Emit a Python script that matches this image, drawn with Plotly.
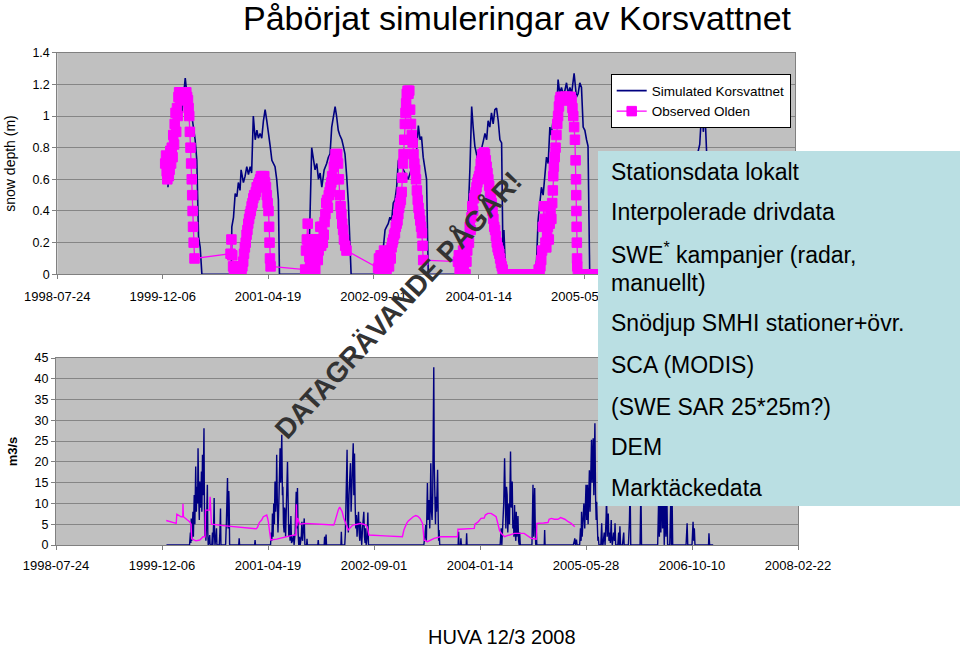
import pandas as pd
import plotly.graph_objects as go

START = "1998-07-24"
x_tick_labels = ["1998-07-24", "1999-12-06", "2001-04-19", "2002-09-01",
                 "2004-01-14", "2005-05-28", "2006-10-10", "2008-02-22"]
snow_ticks = [0, 0.2, 0.4, 0.6, 0.8, 1, 1.2, 1.4]
flow_ticks = [0, 5, 10, 15, 20, 25, 30, 35, 40, 45]

# ---- Snow depth (m): simulated Korsvattnet (days since START, value) ----
sim_snow_day = [
    525, 536, 544, 551, 557, 563, 572, 583, 591, 598, 607, 615, 622, 630, 638, 646, 654, 662, 666, 670, 678, 686,
    825, 828, 836, 844, 852, 859, 867, 872, 883, 891, 899, 907, 915, 922, 930, 939, 947, 954, 962, 970, 978, 986,
    994, 1002, 1010, 1018, 1025, 1033, 1041, 1049, 1054,
    1192, 1207, 1215, 1223, 1231, 1239, 1247, 1255, 1266, 1278, 1286, 1294, 1302, 1318, 1325, 1333, 1340, 1350,
    1357, 1365, 1373, 1381, 1394,
    1539, 1547, 1555, 1562, 1570, 1578, 1586, 1594, 1602, 1610, 1618, 1626, 1634, 1642, 1650, 1658, 1665, 1674,
    1683, 1694, 1705, 1713, 1721, 1728, 1736, 1744, 1752, 1760,
    1902, 1910, 1920, 1930, 1945, 1958, 1966, 1973, 1981, 1989, 1997, 2005, 2013, 2021, 2029, 2037, 2044, 2052,
    2060, 2068, 2076, 2084, 2092, 2100, 2108, 2114, 2119, 2127,
    2266, 2274, 2281, 2289, 2297, 2305, 2313, 2321, 2329, 2337, 2344, 2352, 2360, 2368, 2376, 2384, 2392, 2400,
    2408, 2416, 2424, 2432, 2440, 2452, 2463, 2471, 2479, 2487, 2495, 2503, 2511, 2518, 2526,
    2650, 2660, 2680, 2710, 2750, 2800, 2850, 2900, 2950, 3000, 3034, 3048, 3055, 3060, 3065, 3072, 3081, 3090,
    3100, 3130,
]
sim_snow_m = [
    0.55, 0.82, 0.79, 0.83, 0.80, 1.04, 0.97, 1.08, 1.02, 1.10, 1.24, 1.14, 1.06, 1.08, 1.00, 0.93, 0.85, 0.72, 0.50, 0.24, 0.17, 0.00,
    0.00, 0.30, 0.36, 0.51, 0.49, 0.58, 0.53, 0.66, 0.58, 0.62, 0.68, 0.63, 0.68, 0.64, 1.00, 0.85, 0.91, 0.86, 0.89, 0.86, 0.97, 1.04,
    0.97, 0.87, 0.81, 0.72, 0.70, 0.68, 0.60, 0.47, 0.00,
    0.00, 0.80, 0.74, 0.66, 0.70, 0.60, 0.64, 0.55, 0.66, 0.70, 0.74, 0.76, 0.93, 1.06, 1.00, 0.91, 0.88, 0.85,
    0.81, 0.76, 0.62, 0.45, 0.00,
    0.00, 0.17, 0.28, 0.30, 0.32, 0.36, 0.34, 0.45, 0.47, 0.55, 0.72, 0.68, 0.70, 0.66, 0.64, 0.62, 0.60, 0.64,
    0.68, 0.72, 0.79, 0.94, 0.85, 0.87, 0.74, 0.66, 0.60, 0.00,
    0.00, 0.07, 0.05, 0.10, 0.22, 0.68, 1.06, 0.93, 0.81, 0.76, 0.70, 0.75, 0.79, 0.84, 0.89, 0.85, 0.97, 0.93,
    1.02, 0.95, 1.04, 1.05, 0.97, 0.85, 0.83, 0.17, 0.28, 0.00,
    0.00, 0.09, 0.34, 0.43, 0.55, 0.50, 0.64, 0.74, 0.70, 0.93, 0.88, 0.97, 0.92, 1.00, 1.23, 1.14, 1.18, 1.14,
    1.16, 1.21, 1.14, 1.18, 1.14, 1.27, 1.12, 1.14, 1.21, 1.18, 0.93, 0.91, 0.85, 0.81, 0.00,
    0.00, 0.20, 0.35, 0.45, 0.55, 0.60, 0.66, 0.70, 0.65, 0.72, 0.74, 0.82, 0.95, 1.10, 0.90, 1.05, 0.76, 0.70,
    0.00, 0.00,
]

# ---- Snow depth (m): observed Olden ----
obs_snow_day = [
    512, 516, 519, 522, 526, 529, 533, 536, 540, 543, 547, 550, 554, 557, 561, 564, 568, 571, 575, 578, 582, 585,
    589, 592, 596, 600, 604, 608, 612, 616, 620, 623, 626, 629, 632, 635, 638, 640, 642, 644, 647, 651,
    822, 826, 830, 834, 838, 842, 846, 850, 854, 858, 862, 866, 870, 874, 878, 882, 886, 890, 894, 898, 902, 906,
    910, 914, 918, 922, 926, 930, 934, 938, 942, 946, 950, 954, 958, 962, 966, 970, 974, 978, 982, 986, 990, 994,
    998, 1002, 1005, 1007, 1009, 1012,
    1176, 1180, 1184, 1188, 1192, 1196, 1200, 1204, 1208, 1212, 1216, 1220, 1224, 1228, 1232, 1236, 1240, 1244,
    1248, 1252, 1256, 1260, 1264, 1268, 1272, 1276, 1280, 1284, 1288, 1292, 1296, 1300, 1304, 1308, 1312, 1316,
    1320, 1324, 1328, 1332, 1336, 1340, 1344, 1348, 1352, 1356, 1360, 1366, 1372,
    1522, 1526, 1530, 1534, 1538, 1542, 1546, 1550, 1554, 1558, 1562, 1566, 1570, 1574, 1578, 1582, 1586, 1590,
    1594, 1598, 1602, 1606, 1610, 1614, 1618, 1622, 1626, 1630, 1634, 1637, 1640, 1643, 1646, 1649, 1652, 1655,
    1658, 1662, 1666, 1670, 1674, 1678, 1682, 1686, 1690, 1694, 1698, 1702, 1706, 1710, 1714, 1718, 1722, 1726,
    1730, 1733, 1736,
    1901, 1905, 1909, 1913, 1917, 1921, 1925, 1929, 1933, 1937, 1941, 1945, 1949, 1953, 1957, 1961, 1965, 1969,
    1973, 1977, 1981, 1985, 1989, 1993, 1997, 2001, 2005, 2009, 2013, 2017, 2021, 2025, 2029, 2033, 2037, 2041,
    2045, 2049, 2053, 2057, 2061, 2065, 2069, 2073, 2077, 2081, 2085, 2089, 2093, 2097, 2101, 2105, 2109, 2113,
    2117, 2121, 2125,
    2130, 2138, 2146, 2154, 2162, 2170, 2178, 2186, 2194, 2202, 2210, 2218, 2226, 2234, 2242, 2250, 2258, 2266,
    2274,
    2280, 2284, 2288, 2292, 2296, 2300, 2304, 2308, 2312, 2316, 2320, 2324, 2328, 2332, 2336, 2340, 2344, 2348,
    2351, 2353, 2356, 2360, 2364, 2368, 2372, 2376, 2380, 2384, 2388, 2392, 2396, 2400, 2404, 2408, 2412, 2416,
    2420, 2424, 2428, 2432, 2436, 2440, 2444, 2448, 2452, 2456, 2459, 2461, 2462, 2463, 2464, 2465, 2466, 2467,
    2470, 2478, 2486, 2494, 2502, 2510, 2518, 2526, 2534, 2542, 2550, 2558, 2566, 2574, 2582, 2590, 2600,
]
obs_snow_m = [
    0.70, 0.75, 0.65, 0.60, 0.72, 0.62, 0.66, 0.78, 0.70, 0.80, 0.74, 0.88, 0.82, 0.95, 1.02, 0.90, 1.05, 1.00, 1.12, 1.15, 1.10, 1.15,
    1.15, 1.12, 1.15, 1.15, 1.10, 1.15, 1.15, 1.12, 1.10, 1.05, 1.00, 0.90, 0.80, 0.70, 0.60, 0.50, 0.40, 0.30, 0.20, 0.10,
    0.13, 0.22, 0.12, 0.05, 0.00, 0.03, 0.00, 0.05, 0.00, 0.02, 0.00, 0.04, 0.00, 0.03, 0.05, 0.08, 0.13, 0.17, 0.20, 0.25, 0.28, 0.32,
    0.35, 0.38, 0.40, 0.43, 0.45, 0.48, 0.50, 0.50, 0.52, 0.55, 0.55, 0.57, 0.58, 0.60, 0.62, 0.60, 0.62, 0.60, 0.62, 0.58, 0.55, 0.50,
    0.45, 0.40, 0.30, 0.20, 0.10, 0.05,
    0.03, 0.15, 0.22, 0.32, 0.20, 0.11, 0.05, 0.22, 0.02, 0.15, 0.09, 0.22, 0.03, 0.12, 0.20, 0.09, 0.15, 0.22,
    0.30, 0.18, 0.30, 0.20, 0.25, 0.33, 0.38, 0.45, 0.47, 0.42, 0.50, 0.52, 0.55, 0.58, 0.62, 0.60, 0.68, 0.72,
    0.76, 0.74, 0.76, 0.70, 0.60, 0.50, 0.43, 0.38, 0.32, 0.28, 0.22, 0.18, 0.15,
    0.04, 0.10, 0.02, 0.12, 0.05, 0.00, 0.08, 0.15, 0.04, 0.10, 0.00, 0.06, 0.12, 0.05, 0.15, 0.10, 0.17, 0.20,
    0.22, 0.25, 0.26, 0.30, 0.32, 0.34, 0.38, 0.42, 0.45, 0.47, 0.52, 0.61, 0.70, 0.76, 0.85, 0.95, 1.02, 1.08,
    1.14, 1.16, 1.14, 1.16, 1.04, 0.95, 0.88, 0.83, 0.76, 0.70, 0.66, 0.60, 0.53, 0.47, 0.42, 0.38, 0.34, 0.30,
    0.26, 0.18, 0.09,
    0.08, 0.12, 0.02, 0.10, 0.00, 0.06, 0.15, 0.04, 0.10, 0.00, 0.08, 0.15, 0.22, 0.20, 0.30, 0.28, 0.36, 0.43,
    0.40, 0.48, 0.50, 0.52, 0.55, 0.58, 0.60, 0.62, 0.65, 0.70, 0.72, 0.76, 0.75, 0.77, 0.76, 0.72, 0.68, 0.64,
    0.60, 0.56, 0.52, 0.48, 0.45, 0.40, 0.35, 0.30, 0.28, 0.24, 0.20, 0.17, 0.15, 0.13, 0.10, 0.07, 0.05, 0.03,
    0.00, 0.00, 0.00,
    0.00, 0.00, 0.00, 0.00, 0.00, 0.00, 0.00, 0.00, 0.00, 0.00, 0.00, 0.00, 0.00, 0.00, 0.00, 0.00, 0.00, 0.00,
    0.00,
    0.00, 0.03, 0.00, 0.05, 0.09, 0.15, 0.30, 0.43, 0.35, 0.20, 0.17, 0.25, 0.30, 0.22, 0.32, 0.39, 0.35, 0.45,
    0.53, 0.62, 0.68, 0.74, 0.80, 0.88, 0.95, 1.00, 1.06, 1.10, 1.12, 1.12, 1.10, 1.12, 1.12, 1.12, 1.10, 1.12,
    1.12, 1.12, 1.10, 1.12, 1.12, 1.10, 1.05, 1.00, 0.93, 0.85, 0.72, 0.60, 0.50, 0.40, 0.30, 0.20, 0.10, 0.05,
    0.00, 0.00, 0.00, 0.00, 0.00, 0.00, 0.00, 0.00, 0.00, 0.00, 0.00, 0.00, 0.00, 0.00, 0.00, 0.00, 0.00,
]

# ---- Discharge (m3/s): simulated ----
sim_q_day = [
    521, 630, 634, 636, 638, 640, 643, 646, 648, 652, 655, 659, 662, 665, 668, 670, 673, 676, 678, 681, 684, 686,
    688, 691, 694, 696, 698, 700, 702, 705, 707, 710, 714, 716, 718, 722, 725, 727, 735, 738, 740, 744, 746, 748,
    750, 754, 757, 759, 770, 773, 776, 778, 800, 804, 807, 809, 812, 815, 817, 819, 862, 864, 866, 937, 939, 941,
    1012, 1015, 1018, 1021, 1024, 1027, 1030, 1033, 1036, 1039, 1041, 1044, 1047, 1049, 1052, 1055, 1057, 1060,
    1063, 1065, 1068, 1070, 1073, 1076, 1078, 1081, 1083, 1086, 1089, 1092, 1095, 1098, 1101, 1104, 1108, 1111,
    1115, 1120, 1123, 1128, 1131, 1133, 1136, 1139, 1142, 1145, 1149, 1152, 1157, 1160, 1163, 1167, 1171, 1174,
    1182, 1184, 1186, 1235, 1237, 1239, 1265, 1267, 1269, 1272, 1274, 1276, 1344, 1346, 1348,
    1362, 1365, 1368, 1371, 1373, 1376, 1379, 1382, 1386, 1389, 1392, 1395, 1398, 1402, 1405, 1408, 1411, 1414,
    1417, 1420, 1423, 1427, 1430, 1433, 1436, 1439, 1442, 1446, 1450, 1452, 1455, 1458, 1460, 1463, 1468, 1471,
    1474,
    1735, 1740, 1744, 1747, 1750, 1752, 1755, 1758, 1760, 1763, 1766, 1768, 1771, 1774, 1777, 1780, 1782, 1784,
    1786, 1788, 1790, 1792, 1795, 1798, 1800, 1803, 1805, 1807, 1810,
    1897, 1899, 1901, 1908, 1910, 1912, 1935, 1937, 1939,
    2095, 2100, 2103, 2108, 2112, 2116, 2119, 2122, 2125, 2128, 2131, 2134, 2136, 2139, 2142, 2144, 2147, 2150,
    2152, 2155, 2158, 2160, 2163, 2166, 2169, 2171, 2174, 2177, 2179, 2182, 2185, 2187, 2190, 2245, 2248, 2250,
    2253, 2256, 2258, 2261, 2263, 2266, 2268, 2303, 2305, 2307,
    2440, 2445, 2447, 2450, 2455, 2458, 2470, 2474, 2477, 2479, 2482, 2486, 2490, 2494, 2497, 2500, 2503, 2507,
    2510, 2513, 2516, 2519, 2522, 2526, 2529, 2531, 2534, 2537, 2540, 2542, 2545, 2548, 2550, 2553, 2556, 2558,
    2561, 2570, 2574, 2577, 2580, 2586, 2590, 2595, 2597, 2600, 2603, 2605, 2608, 2612, 2615, 2619, 2621, 2624,
    2630, 2634, 2637, 2640, 2650, 2654, 2657, 2660, 2663, 2672, 2676, 2678, 2680, 2700, 2705, 2708, 2711, 2755,
    2759, 2762, 2838, 2843, 2846, 2850, 2853, 2858, 2861, 2866, 2869, 2874, 2877, 2882, 2885, 2895, 2900, 2903,
    2906, 2909, 2972, 2977, 2980, 3000, 3005, 3008, 3011, 3014, 3078, 3080, 3083, 3100,
]
sim_q_m3s = [
    0, 0, 3, 0.5, 6.4, 1, 4, 8, 2, 12, 5, 18.9, 8, 14, 10, 23.3, 12, 6, 15.3, 9, 13, 17.7,
    8, 21.7, 12, 20, 28.1, 10, 2, 7.2, 1, 5, 14.5, 3, 0, 1, 2.4, 0, 0, 3, 0, 6, 11.3, 2,
    0, 2, 4, 0, 0, 3, 8.8, 0, 0, 6, 10, 16.1, 4, 13, 9.2, 0, 0, 1.6, 0, 0, 1.2, 0,
    0, 3, 1, 7.6, 2, 10, 5, 15.3, 8, 12, 21.7, 10, 3, 6, 12, 18, 23.3, 15,
    20, 26.5, 12, 14, 5, 3, 9, 8, 2, 6, 14, 20, 6, 2, 5, 1, 7, 0.5,
    1, 2.4, 0, 3, 9, 12.8, 4, 13.7, 3, 0, 2, 0, 2, 5.6, 1, 3, 6.4, 0,
    0, 1.5, 0, 0, 1.2, 0, 0, 2, 0, 0, 2.5, 0, 0, 3.2, 0,
    0, 3, 10, 18, 22.9, 6, 3, 12, 16, 19.7, 8, 12, 18, 24.5, 12, 22, 10, 4,
    7.2, 2, 5, 8, 3, 1, 5.6, 2, 0, 4, 6, 8, 2, 0.5, 4, 0, 2, 7.8,
    0,
    0, 2, 4.8, 1, 6, 14.9, 6, 8, 10.8, 4, 12, 19.7, 8, 6, 12, 30, 42.8, 20,
    8, 12, 5, 11.6, 8, 14, 18.1, 6, 1, 3.6, 0,
    0, 3.2, 0, 0, 1.6, 0, 0, 2.8, 0,
    0, 4, 0, 6, 10, 20.9, 8, 4, 14, 12, 3, 6, 10, 5, 15, 22.5, 9, 12,
    15.3, 4, 6, 2, 9.6, 3, 1, 8, 2, 4, 7, 1, 0, 3, 0, 0, 6, 14.5,
    2, 9, 13.7, 3, 0, 3, 0, 0, 3.6, 0,
    0, 1, 1.6, 0, 1.3, 0, 0, 4, 1, 8, 2, 6, 10, 4, 9, 14.5, 6, 14.5,
    5, 12, 18, 8, 20, 25.3, 15, 20, 25.7, 12, 22, 29.3, 12, 6, 10.4, 3, 1, 2,
    0, 0, 5.2, 0, 0, 3, 0, 7, 12, 2, 5, 7.6, 1, 3, 0.5, 6, 2, 0,
    3, 1, 5.2, 0, 0, 3, 0, 4.5, 0, 0, 2, 3, 0, 0, 6, 15, 0, 0,
    14, 0, 0, 12, 2, 16, 3, 18, 4, 11, 0, 13, 2, 10, 0, 0, 11, 0,
    12, 0, 0, 5.2, 0, 0, 5.6, 1, 4, 0, 0, 2.8, 0, 0,
]

# ---- Discharge (m3/s): observed ----
obs_q_day = [
    520, 567, 570, 590, 598, 599, 601, 620, 630, 637, 640, 660, 678, 694, 703, 705, 725, 727, 729, 733, 800, 880,
    944, 950, 959, 970, 978, 986, 994, 998, 1002, 1008, 1013, 1041, 1080, 1104, 1125, 1132, 1134, 1136, 1140, 1150,
    1176, 1250, 1310, 1315, 1320, 1326, 1332, 1338, 1344, 1350, 1357, 1365, 1372, 1378, 1382, 1389, 1400, 1420,
    1436, 1450, 1462, 1468, 1472, 1476, 1550, 1634, 1641, 1648, 1654, 1662, 1673, 1685, 1697, 1707, 1717, 1729,
    1733, 1736, 1752, 1784, 1815, 1894, 1896, 1902, 1973, 1976, 1990, 2005, 2020, 2025, 2037, 2052, 2065, 2076,
    2085, 2092, 2100, 2116, 2125, 2163, 2208, 2242, 2266, 2268, 2300, 2321, 2326, 2337, 2350, 2368, 2380, 2390,
    2400, 2416, 2430, 2447,
]
obs_q_m3s = [
    5.9, 5.2, 7.4, 6.8, 6.8, 9.9, 6.8, 6.0, 5.6, 5.0, 1.5, 1.0, 1.2, 2.0, 2.0, 8.4, 8.4, 11.6, 8.0, 5.0, 4.6, 4.2,
    3.9, 4.2, 5.4, 6.0, 6.8, 7.0, 7.2, 6.5, 5.5, 3.0, 1.2, 1.4, 2.0, 2.2, 2.4, 2.4, 9.8, 4.5, 6.5, 5.0,
    5.2, 5.0, 4.8, 5.5, 6.5, 7.5, 8.5, 9.1, 8.5, 8.0, 6.5, 5.6, 4.5, 3.6, 3.8, 4.4, 4.8, 5.0,
    5.2, 5.0, 4.8, 4.4, 3.0, 2.4, 2.2, 2.0, 3.6, 4.5, 5.2, 5.8, 6.4, 6.8, 7.1, 6.9, 6.4, 5.2,
    3.0, 1.2, 0.8, 1.6, 2.0, 2.0, 3.8, 3.8, 4.0, 5.0, 5.5, 6.4, 6.5, 7.2, 7.6, 7.6, 7.2, 6.8,
    5.0, 3.5, 2.8, 2.0, 2.2, 2.8, 2.8, 1.6, 1.4, 5.2, 5.3, 5.4, 6.2, 6.4, 6.2, 6.2, 6.6, 6.4,
    6.2, 5.6, 5.2, 4.4,
]

# ---- Text content ----
title_text = "Påbörjat simuleringar av Korsvattnet"
box_lines = ["Stationsdata lokalt", "Interpolerade drivdata", "SWE<sup>*</sup> kampanjer (radar,",
             "manuellt)", "Snödjup SMHI stationer+övr.", "SCA (MODIS)", "(SWE SAR 25*25m?)", "DEM",
             "Marktäckedata"]
box_line_px = [171.5, 212, 253, 283, 323, 365, 406.5, 447, 488.5]
watermark = "DATAGRÄVANDE PÅGÅR!"
footer = "HUVA 12/3 2008"


def to_dates(days):
    return pd.Timestamp(START) + pd.to_timedelta(days, unit="D")


W, H = 960, 649
FONT = "Liberation Sans, Arial, Helvetica, sans-serif"
NAVY = "#000080"
MAGENTA = "#FF00FF"
GRID = "#858585"
PLOTBG = "#C0C0C0"


def py(p):
    return 1 - p / H


fig = go.Figure()

fig.add_trace(go.Scatter(x=to_dates(sim_snow_day), y=sim_snow_m, mode="lines",
                         name="Simulated Korsvattnet", line=dict(color=NAVY, width=1.6),
                         xaxis="x", yaxis="y"))
fig.add_trace(go.Scatter(x=to_dates(obs_snow_day), y=obs_snow_m, mode="lines+markers",
                         name="Observed Olden", line=dict(color=MAGENTA, width=1.3),
                         marker=dict(symbol="square", size=9.5, color=MAGENTA,
                                     line=dict(color=MAGENTA, width=1)),
                         xaxis="x", yaxis="y"))
fig.add_trace(go.Scatter(x=to_dates(sim_q_day), y=sim_q_m3s, mode="lines",
                         line=dict(color=NAVY, width=1.4), showlegend=False,
                         xaxis="x2", yaxis="y2"))
fig.add_trace(go.Scatter(x=to_dates(obs_q_day), y=obs_q_m3s, mode="lines",
                         line=dict(color=MAGENTA, width=1.4), showlegend=False,
                         xaxis="x2", yaxis="y2"))

common_x = dict(type="date", range=[x_tick_labels[0], x_tick_labels[-1]],
                tickvals=x_tick_labels, ticktext=x_tick_labels, automargin=False,
                showgrid=False, zeroline=False, showline=True, linecolor="#808080",
                linewidth=1, mirror=True, ticks="outside", ticklen=4, tickcolor="#808080",
                tickfont=dict(family=FONT, size=13, color="black"))
common_y = dict(showgrid=True, gridcolor=GRID, gridwidth=1, zeroline=False, automargin=False,
                showline=True, linecolor="#808080", linewidth=1, mirror=True,
                ticks="outside", ticklen=4, tickcolor="#808080",
                tickfont=dict(family=FONT, size=12.5, color="black"))

fig.update_layout(
    width=W, height=H,
    margin=dict(l=0, r=0, t=0, b=0, pad=0),
    paper_bgcolor="white", plot_bgcolor=PLOTBG,
    font=dict(family=FONT, color="black"),
    title=dict(text=title_text, x=517 / W, y=py(18), xanchor="center", yanchor="middle",
               font=dict(family=FONT, size=34, color="black")),
    xaxis=dict(common_x, domain=[57.3 / W, 795 / W], anchor="y", ticklabelstandoff=6),
    yaxis=dict(common_y, domain=[py(274.3), py(52.7)], anchor="x", range=[0, 1.4],
               tickvals=snow_ticks,
               title=dict(text="snow depth (m)", standoff=13,
                          font=dict(family=FONT, size=14, color="black"))),
    xaxis2=dict(common_x, domain=[56 / W, 798 / W], anchor="y2", ticklabelstandoff=4),
    yaxis2=dict(common_y, domain=[py(545), py(358)], anchor="x2", range=[0, 45],
                tickvals=flow_ticks,
                title=dict(text="<b>m3/s</b>", standoff=14,
                           font=dict(family=FONT, size=13, color="black"))),
    legend=dict(x=610.7 / W, y=py(74.3), xanchor="left", yanchor="top",
                bgcolor="white", bordercolor="#000000", borderwidth=1,
                font=dict(family=FONT, size=13.5, color="black"),
                tracegroupgap=0, itemwidth=30),
    showlegend=True,
)

# light blue information box
fig.add_shape(type="rect", xref="paper", yref="paper",
              x0=598 / W, x1=1.0, y0=py(506), y1=py(151),
              fillcolor="#BADFE3", line=dict(width=0), layer="above")

for txt, ypx in zip(box_lines, box_line_px):
    fig.add_annotation(text=txt, xref="paper", yref="paper", x=609 / W, y=py(ypx),
                       xanchor="left", yanchor="middle", showarrow=False,
                       font=dict(family=FONT, size=23, color="black"))

fig.add_annotation(text=f"<b>{watermark}</b>", xref="paper", yref="paper",
                   x=398 / W, y=py(305), xanchor="center", yanchor="middle",
                   textangle=-47.5, showarrow=False,
                   font=dict(family=FONT, size=28, color="#333333"))

fig.add_annotation(text=footer, xref="paper", yref="paper", x=502 / W, y=py(637),
                   xanchor="center", yanchor="middle", showarrow=False,
                   font=dict(family=FONT, size=20, color="black"))

# the page body has a default 8px margin; remove it so the figure fills the window
fig.write_html("out.html", config={"displayModeBar": False},
               post_script="document.body.style.margin='0px';")
